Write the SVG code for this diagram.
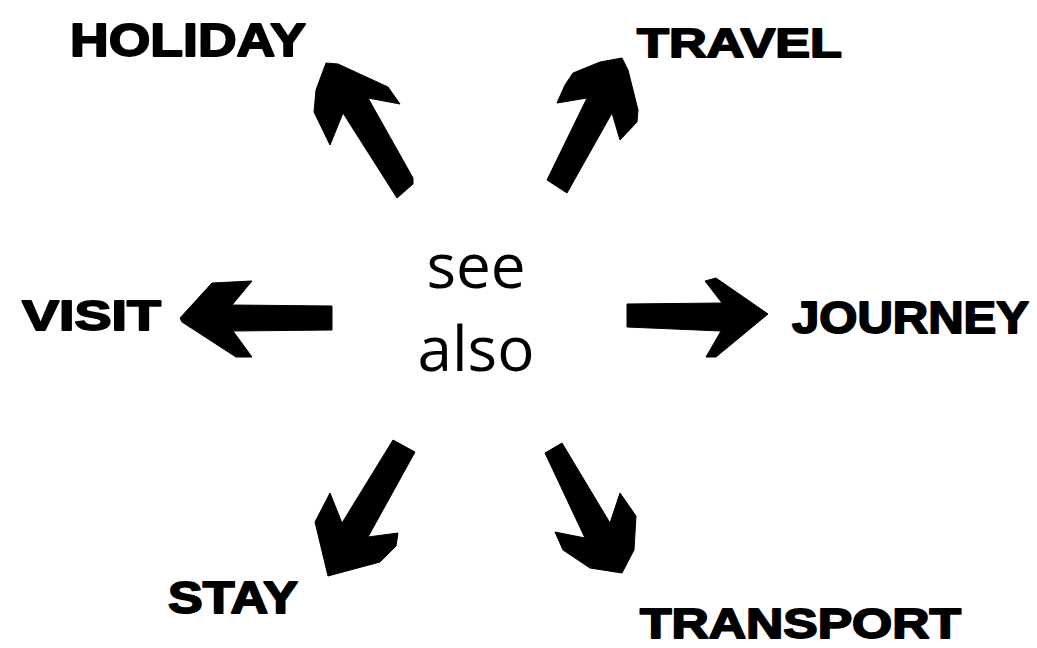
<svg xmlns="http://www.w3.org/2000/svg" width="1037" height="648" viewBox="0 0 1037 648">
<style>
.lbl{font-family:"Liberation Sans",Arial,sans-serif;font-weight:bold;fill:#000;stroke:#000;stroke-width:1.8;stroke-linejoin:round}
.ctr{font-family:"Open Sans","Noto Sans",sans-serif;font-size:62px;fill:#000;text-anchor:middle}
.arr{fill:#000;stroke:#000;stroke-width:1;stroke-linejoin:round}
</style>
<rect width="1037" height="648" fill="#fff"/>
<g id="center"><text class="ctr" x="476" y="288">see</text><text class="ctr" x="476" y="371">also</text></g>
<g id="holiday"><text class="lbl" x="70" y="56" font-size="46" textLength="236" lengthAdjust="spacingAndGlyphs">HOLIDAY</text></g>
<g id="travel"><text class="lbl" x="637" y="57" font-size="41" textLength="205" lengthAdjust="spacingAndGlyphs">TRAVEL</text></g>
<g id="visit"><text class="lbl" x="22" y="330" font-size="42" textLength="139" lengthAdjust="spacingAndGlyphs">VISIT</text></g>
<g id="journey"><text class="lbl" x="792" y="333" font-size="44" textLength="237" lengthAdjust="spacingAndGlyphs">JOURNEY</text></g>
<g id="stay"><text class="lbl" x="168" y="613" font-size="44" textLength="130" lengthAdjust="spacingAndGlyphs">STAY</text></g>
<g id="transport"><text class="lbl" x="640" y="638" font-size="42" textLength="321" lengthAdjust="spacingAndGlyphs">TRANSPORT</text></g>
<g id="connectors">
<polygon class="arr" points="326,63 338,64 388,87 400,104 368,98 413,178 413,184 397,198 343,113 330,145 314,112 316,90"/>
<polygon class="arr" points="622,58 628,70 638,110 637,122 620,140 612,113 567,193 547,180 587,98 557,103 565,85 573,73 600,62"/>
<polygon class="arr" points="180,318 212,283 252,281 232,305 332,306 332,330 233,331 252,357 236,357 182,322"/>
<polygon class="arr" points="627,304 722,303 705,281 716,278 768,314 716,357 706,357 721,331 627,327"/>
<polygon class="arr" points="393,440 415,452 368,537 398,533 396,546 380,562 328,576 315,522 330,493 342,523"/>
<polygon class="arr" points="545,453 562,443 610,523 620,493 636,516 634,550 622,573 590,568 563,550 555,532 585,538"/>
</g>
</svg>
